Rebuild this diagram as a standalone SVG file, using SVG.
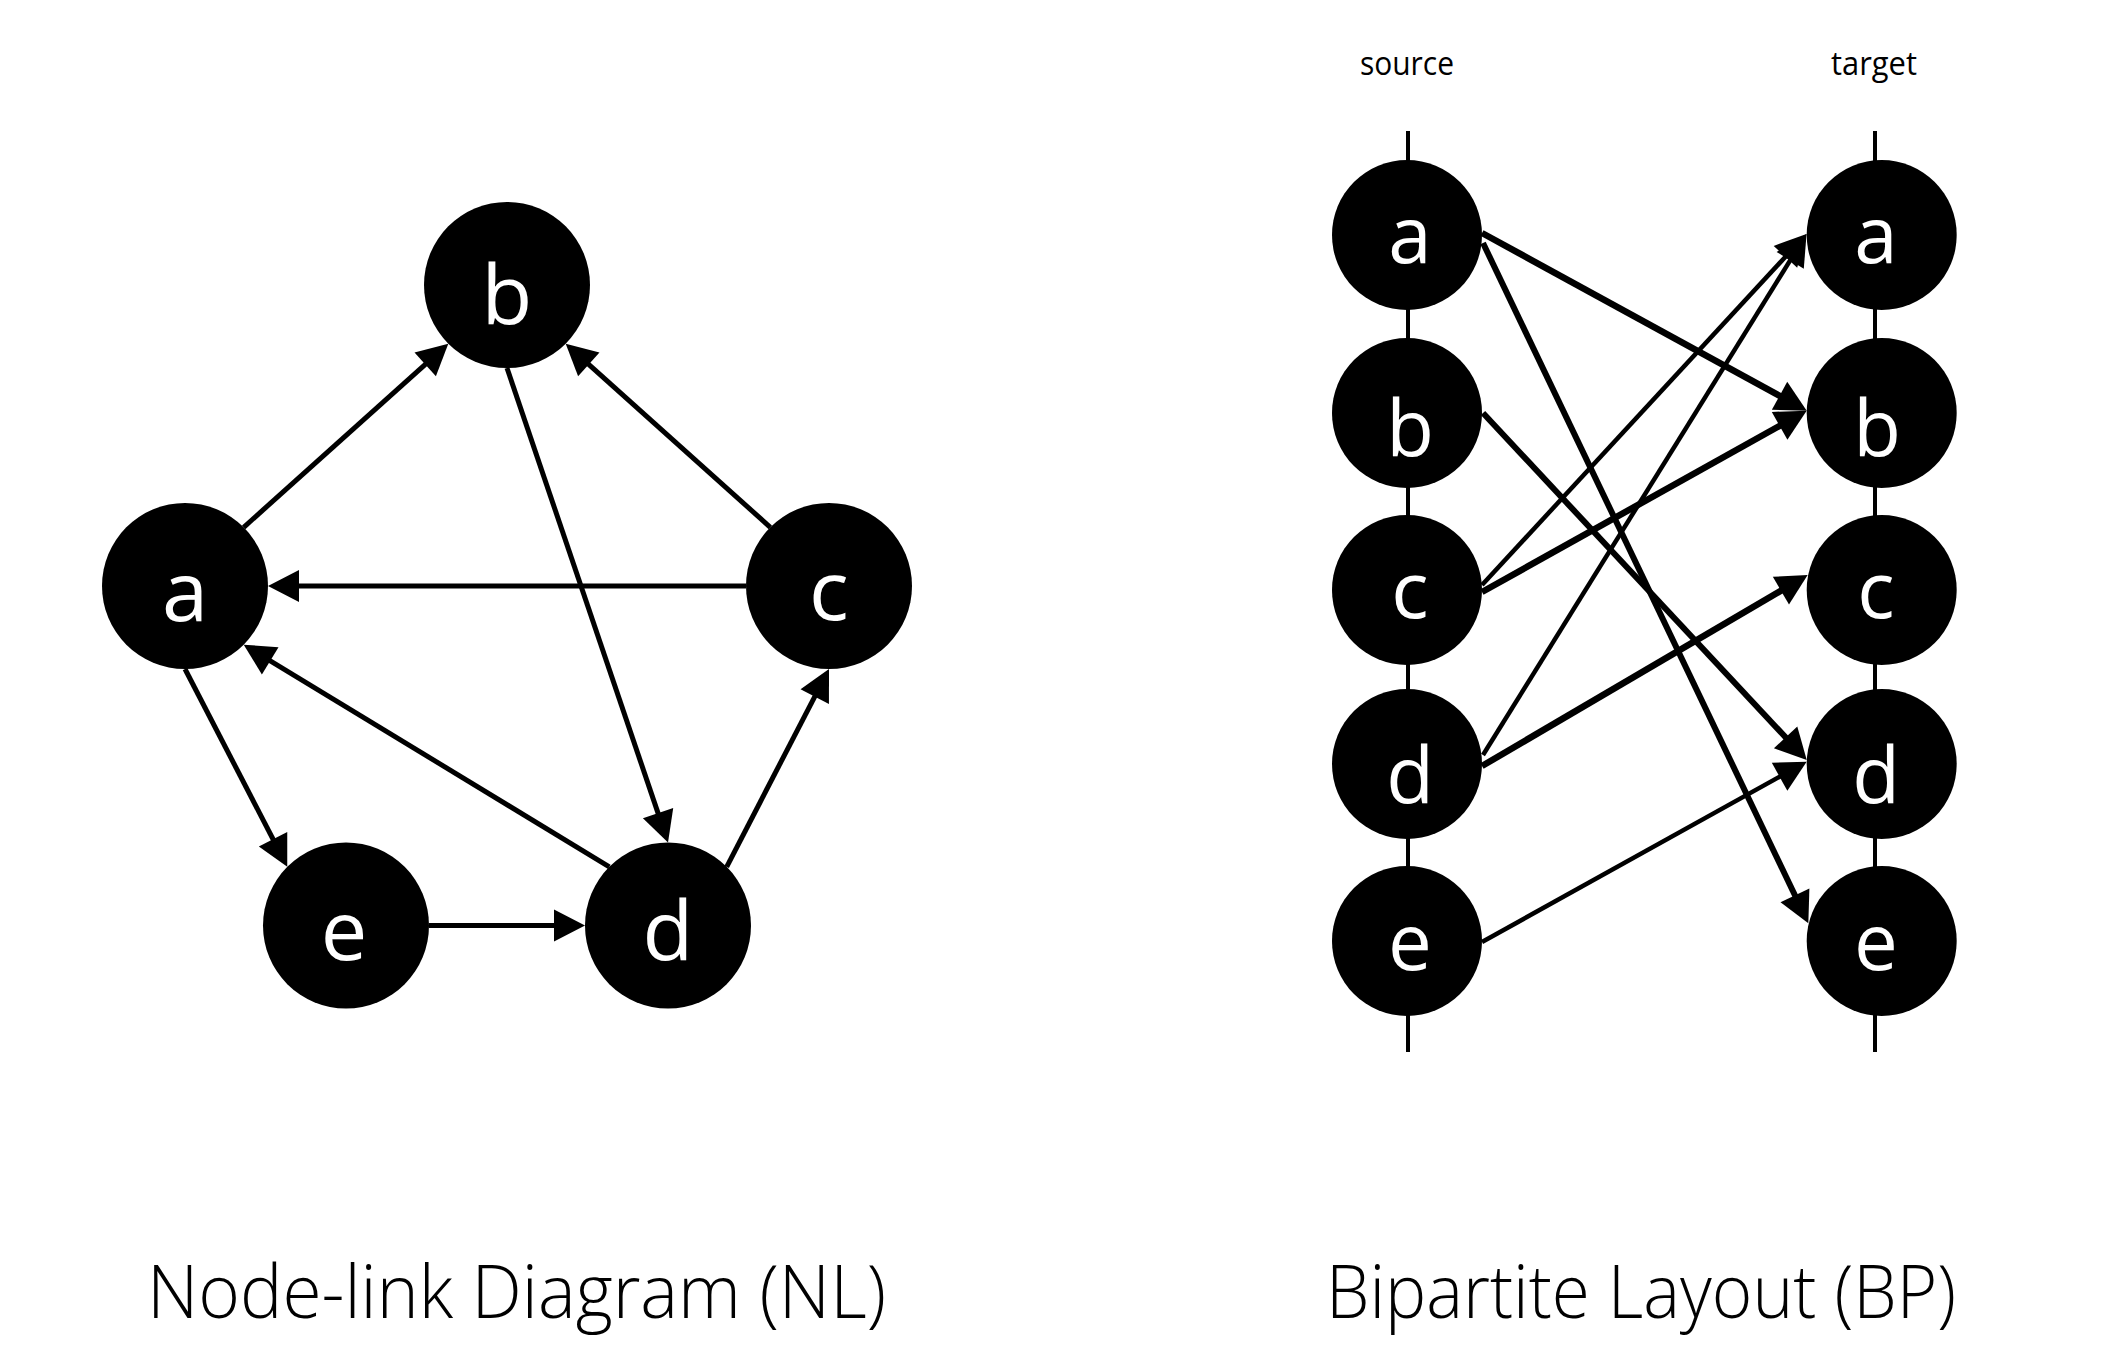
<svg xmlns="http://www.w3.org/2000/svg" width="2126" height="1347" viewBox="0 0 2126 1347">
<style>
  .bg { fill: #ffffff; }
  .node circle { fill: #000000; }
  .nl-lbl { font-family: 'Open Sans', 'Noto Sans', sans-serif; font-size: 83px; fill: #ffffff; text-anchor: middle; }
  .bp-lbl { font-family: 'Open Sans', 'Noto Sans', sans-serif; font-size: 78px; fill: #ffffff; text-anchor: middle; }
  .edge { stroke: #000000; fill: none; marker-end: url(#ah); }
  .nl-edge { stroke-width: 5; }
  .thick { stroke-width: 6.5; }
  .mid { stroke-width: 6; }
  .thin { stroke-width: 4.5; }
  .axis { stroke: #000000; stroke-width: 4; fill: none; }
  .head { font-family: 'Open Sans', 'Noto Sans', sans-serif; font-size: 33px; fill: #000000; text-anchor: middle; }
  .title { font-family: 'Open Sans', 'Noto Sans', sans-serif; font-weight: 300; font-size: 74px; fill: #000000; }
</style>
<defs>
  <marker id="ah" markerUnits="userSpaceOnUse" viewBox="0 0 31 32" markerWidth="31" markerHeight="32" refX="11" refY="16" orient="auto" overflow="visible">
    <path d="M0,0 L31,16 L0,32 z" fill="#000000"/>
  </marker>
</defs>
<rect class="bg" x="0" y="0" width="2126" height="1347"/>

<!-- Node-link diagram connectors -->
<g id="nl-connectors">
  <line class="edge nl-edge" x1="243.7" y1="527.3" x2="433.4" y2="357.1"/>
  <line class="edge nl-edge" x1="770.3" y1="527.3" x2="580.6" y2="357.1"/>
  <line class="edge nl-edge" x1="507" y1="368" x2="661.6" y2="823.6"/>
  <line class="edge nl-edge" x1="746" y1="586" x2="288" y2="586"/>
  <line class="edge nl-edge" x1="609.3" y1="866.8" x2="260.8" y2="655.1"/>
  <line class="edge nl-edge" x1="185" y1="669" x2="278.1" y2="849"/>
  <line class="edge nl-edge" x1="429" y1="925.5" x2="565" y2="925.5"/>
  <line class="edge nl-edge" x1="726.7" y1="866.8" x2="819.8" y2="686.8"/>
</g>

<!-- Node-link diagram nodes -->
<g id="nl-a" class="node"><circle cx="185" cy="586" r="83"/><text class="nl-lbl" x="185" y="621">a</text></g>
<g id="nl-b" class="node"><circle cx="507" cy="285" r="83"/><text class="nl-lbl" x="507" y="324">b</text></g>
<g id="nl-c" class="node"><circle cx="829" cy="586" r="83"/><text class="nl-lbl" x="829" y="620">c</text></g>
<g id="nl-d" class="node"><circle cx="668" cy="925.5" r="83"/><text class="nl-lbl" x="668" y="960">d</text></g>
<g id="nl-e" class="node"><circle cx="346" cy="925.5" r="83"/><text class="nl-lbl" x="344" y="960">e</text></g>

<!-- Bipartite layout axes and headers -->
<g id="bp-axes">
  <line class="axis" x1="1408" y1="131" x2="1408" y2="1052"/>
  <line class="axis" x1="1875" y1="131" x2="1875" y2="1052"/>
  <text class="head" x="1407" y="75" textLength="94" lengthAdjust="spacingAndGlyphs">source</text>
  <text class="head" x="1874" y="75" textLength="86" lengthAdjust="spacingAndGlyphs">target</text>
</g>

<!-- Bipartite connectors -->
<g id="bp-connectors">
  <line class="edge thick" x1="1482" y1="233" x2="1789.2" y2="401.1"/>
  <line class="edge mid" x1="1483" y1="243" x2="1799.7" y2="905.3"/>
  <line class="edge mid" x1="1483" y1="413" x2="1793.1" y2="745.4"/>
  <line class="edge thin" x1="1482" y1="585" x2="1792.9" y2="248.7"/>
  <line class="edge thick" x1="1482" y1="592" x2="1789.2" y2="420.5"/>
  <line class="edge thin" x1="1483" y1="755" x2="1796" y2="251"/>
  <line class="edge thick" x1="1482" y1="766" x2="1790.4" y2="585.1"/>
  <line class="edge thin" x1="1482" y1="942" x2="1789.2" y2="771.4"/>
</g>

<!-- Bipartite source nodes -->
<g id="src-a" class="node"><circle cx="1407" cy="235" r="75"/><text class="bp-lbl" x="1410" y="263">a</text></g>
<g id="src-b" class="node"><circle cx="1407" cy="413" r="75"/><text class="bp-lbl" x="1410" y="456">b</text></g>
<g id="src-c" class="node"><circle cx="1407" cy="590" r="75"/><text class="bp-lbl" x="1410" y="618">c</text></g>
<g id="src-d" class="node"><circle cx="1407" cy="764" r="75"/><text class="bp-lbl" x="1410" y="803">d</text></g>
<g id="src-e" class="node"><circle cx="1407" cy="941" r="75"/><text class="bp-lbl" x="1410" y="970">e</text></g>

<!-- Bipartite target nodes -->
<g id="tgt-a" class="node"><circle cx="1881.7" cy="235" r="75"/><text class="bp-lbl" x="1876" y="263">a</text></g>
<g id="tgt-b" class="node"><circle cx="1881.7" cy="413" r="75"/><text class="bp-lbl" x="1877" y="456">b</text></g>
<g id="tgt-c" class="node"><circle cx="1881.7" cy="590" r="75"/><text class="bp-lbl" x="1876" y="618">c</text></g>
<g id="tgt-d" class="node"><circle cx="1881.7" cy="764" r="75"/><text class="bp-lbl" x="1876" y="803">d</text></g>
<g id="tgt-e" class="node"><circle cx="1881.7" cy="941" r="75"/><text class="bp-lbl" x="1876" y="970">e</text></g>

<!-- Titles -->
<g id="titles">
  <text class="title" x="147" y="1318" textLength="739" lengthAdjust="spacingAndGlyphs">Node-link Diagram (NL)</text>
  <text class="title" x="1326" y="1318" textLength="630" lengthAdjust="spacingAndGlyphs">Bipartite Layout (BP)</text>
</g>
</svg>
